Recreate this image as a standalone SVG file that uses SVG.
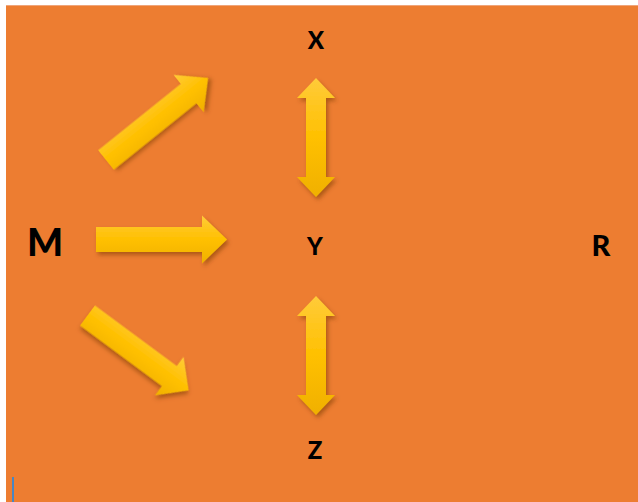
<svg xmlns="http://www.w3.org/2000/svg" width="638" height="502" viewBox="0 0 638 502">
<style>
.lbl{font-family:Lato,"Liberation Sans",Arial,sans-serif;font-weight:900;fill:#000;text-anchor:middle}
.arr{fill:url(#yg);filter:url(#sh)}
</style>
<defs>
<linearGradient id="yg" x1="0" y1="0" x2="0" y2="1">
<stop offset="0" stop-color="#FFCB3A"/>
<stop offset="0.5" stop-color="#FFC000"/>
<stop offset="1" stop-color="#F0B000"/>
</linearGradient>
<filter id="sh" x="-30%" y="-30%" width="160%" height="160%">
<feDropShadow dx="2" dy="3" stdDeviation="2" flood-color="#7A3A00" flood-opacity="0.55"/>
</filter>
<path id="one" d="M0,-12.5 H106 V-24 L131,0 L106,24 V12.5 H0 Z"/>
<path id="two" d="M0,0 L19,20 H10 V99 H19 L0,119 L-19,99 H-10 V20 H-19 Z"/>
</defs>
<rect x="0" y="0" width="638" height="502" fill="#FFFFFF"/>
<rect x="6" y="5" width="632" height="497" fill="#EFA57A"/>
<rect x="6" y="6" width="632" height="496" fill="#ED7D31"/>
<rect x="12" y="477" width="2" height="25" fill="#4A86C0"/>
<g id="M"><text class="lbl" x="45" y="256" font-size="38">M</text></g>
<g id="X"><text class="lbl" x="316" y="49" font-size="24">X</text></g>
<g id="Y"><text class="lbl" x="315" y="255" font-size="24">Y</text></g>
<g id="Z"><text class="lbl" x="315" y="459" font-size="24">Z</text></g>
<g id="R"><text class="lbl" x="601" y="256" font-size="29">R</text></g>
<g id="connectors">
<use href="#one" class="arr" transform="translate(106,160) rotate(-38.8)"/>
<use href="#one" class="arr" transform="translate(96,239.5)"/>
<use href="#one" class="arr" transform="translate(87.5,315.5) rotate(36.5) scale(0.96,1)"/>
<use href="#two" class="arr" transform="translate(316,78)"/>
<use href="#two" class="arr" transform="translate(316,296)"/>
</g>
</svg>
